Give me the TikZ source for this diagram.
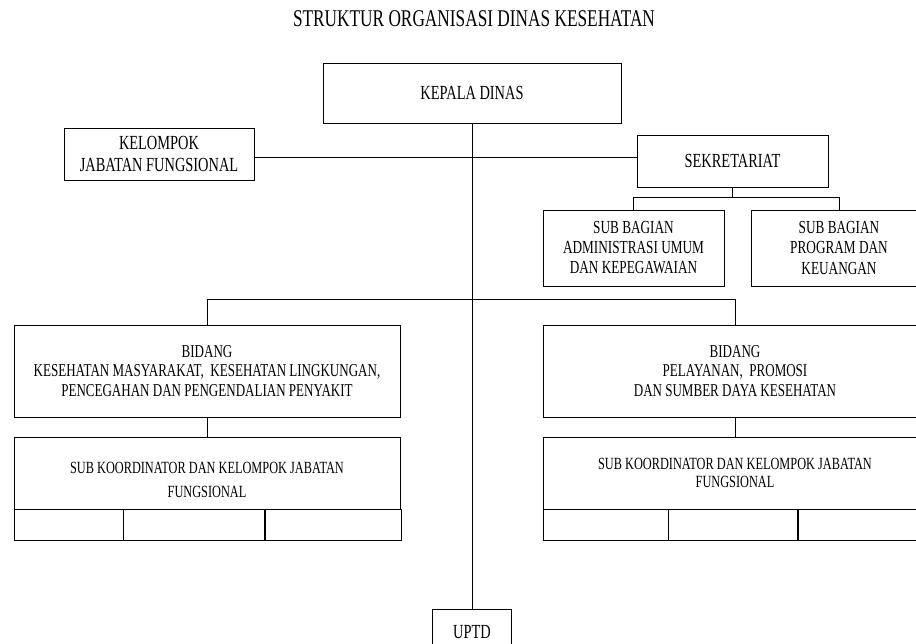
\documentclass[tikz,border=0pt]{standalone}
\usepackage{fontspec}
\setmainfont{Liberation Serif}[FakeStretch=0.72]
\usepackage{tikz}

\begin{document}
\begin{tikzpicture}[
    x=1pt, y=-1pt,
    node distance=102pt,
    box/.style={rectangle, draw, line width=0.9pt, align=center, inner sep=1pt, font=\fontsize{20}{22}\selectfont},
    subbox/.style={box, minimum height=76pt, font=\fontsize{18.4}{20}\selectfont},
    bidbox/.style={box, minimum height=92pt, font=\fontsize{18.1}{19.5}\selectfont},
    koordbox/.style={box, minimum height=72pt},
    sel/.style={rectangle, draw, line width=0.9pt, minimum height=31pt, inner sep=0pt, anchor=north west},
    garis/.style={line width=0.9pt}
]
    \useasboundingbox (0,0) rectangle (916,644);
    \fill[white] (0,0) rectangle (916,644);
    \clip (0,0) rectangle (916,644);

    \node[font=\fontsize{24}{26}\selectfont] (judul) at (474,19) {STRUKTUR ORGANISASI DINAS KESEHATAN};

    \node[box, minimum width=298pt, minimum height=60pt] (kadis) at (472,93) {KEPALA DINAS};
    \node[box, minimum width=190pt, minimum height=52pt] (jf) at (159,154) {KELOMPOK\\JABATAN FUNGSIONAL};
    \node[box, minimum width=191pt, minimum height=52pt] (sekre) at (732.5,161) {SEKRETARIAT};
    \node[subbox, minimum width=181pt] (subum) at (633.5,248) {SUB BAGIAN\\ADMINISTRASI UMUM\\DAN KEPEGAWAIAN};
    \node[subbox, minimum width=176pt] (subprog) at (839,248) {SUB BAGIAN\\PROGRAM DAN\\KEUANGAN};

    \node[bidbox, minimum width=386pt] (bidkesmas) at (207,371) {BIDANG\\KESEHATAN MASYARAKAT,\ \ KESEHATAN LINGKUNGAN,\\PENCEGAHAN DAN PENGENDALIAN PENYAKIT};
    \node[bidbox, minimum width=384pt] (bidyan) at (735,371) {BIDANG\\PELAYANAN,\ \ PROMOSI\\DAN SUMBER DAYA KESEHATAN};

    \node[koordbox, minimum width=386pt, below of=bidkesmas, text height=50pt, font=\fontsize{17.1}{24}\selectfont] (kkoord) {SUB KOORDINATOR DAN KELOMPOK JABATAN\\FUNGSIONAL};
    \node[koordbox, minimum width=384pt, below of=bidyan, font=\fontsize{17.1}{17.5}\selectfont] (ykoord) {SUB KOORDINATOR DAN KELOMPOK JABATAN\\FUNGSIONAL};

    \node[sel, minimum width=109pt] (kk1) at (kkoord.south west) {};
    \node[sel, minimum width=141pt] (kk2) at (kk1.north east) {};
    \node[sel, minimum width=136pt] (kk3) at (kk2.north east) {};
    \node[sel, minimum width=125pt] (yk1) at (ykoord.south west) {};
    \node[sel, minimum width=129pt] (yk2) at (yk1.north east) {};
    \node[sel, minimum width=130pt] (yk3) at (yk2.north east) {};

    \node[box, minimum width=79pt, minimum height=46pt] (uptd) at (472,632) {UPTD};

    \coordinate (simpul) at ([yshift=-3pt]jf.east);
    \draw[garis] (kadis.south) -- (kadis.south |- uptd.north);
    \draw[garis] (simpul) -- (simpul -| sekre.west);
    \draw[garis] (sekre.south) -- ++(0,10) -| (subum.north);
    \draw[garis] (sekre.south) -- ++(0,10) -| (subprog.north);
    \draw[garis] (bidkesmas.north) -- ++(0,-25) -| (bidyan.north);
    \draw[garis] (bidkesmas.south) -- (kkoord.north);
    \draw[garis] (bidyan.south) -- (ykoord.north);
\end{tikzpicture}
\end{document}
